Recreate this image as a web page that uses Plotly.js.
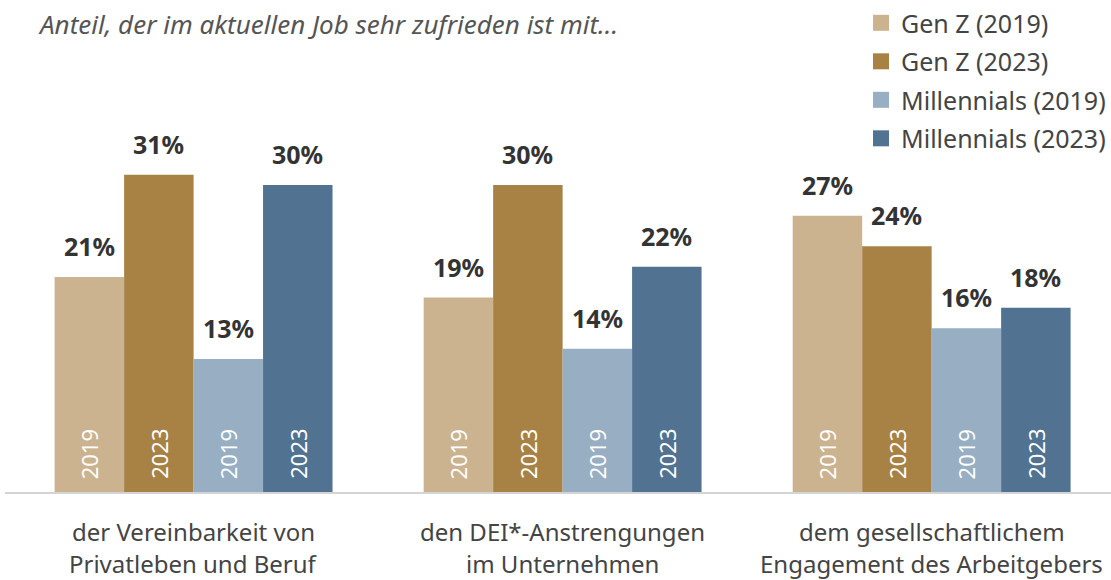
<!DOCTYPE html>
<html>
<head>
<meta charset="utf-8">
<script src="https://cdn.plot.ly/plotly-3.0.1.min.js"></script>
<style>html,body{margin:0;padding:0;background:#fff;}#chart{width:1111px;height:580px;}</style>
</head>
<body>
<div id="chart"></div>
<script>
const categories = ["der Vereinbarkeit von<br>Privatleben und Beruf", "den DEI*-Anstrengungen<br>im Unternehmen", "dem gesellschaftlichem<br>Engagement des Arbeitgebers"];
const seriesNames = ["Gen Z (2019)", "Gen Z (2023)", "Millennials (2019)", "Millennials (2023)"];
const seriesYears = ["2019", "2023", "2019", "2023"];
const genZ2019 = [21, 19, 27];
const genZ2023 = [31, 30, 24];
const mill2019 = [13, 14, 16];
const mill2023 = [30, 22, 18];
const seriesValues = [genZ2019, genZ2023, mill2019, mill2023];
const colors = ["#CBB390", "#A88245", "#97AEC3", "#517391"];
const titleText = "Anteil, der im aktuellen Job sehr zufrieden ist mit...";

const FONT = "Noto Sans, sans-serif";
const bargap = 0.247;
const bw = (1 - bargap) / seriesValues.length;
const xs = categories.map((c, i) => i);

const traces = [];
seriesValues.forEach((vals, s) => {
  traces.push({
    type: "bar", x: xs, y: vals, name: seriesNames[s],
    marker: {color: colors[s]}, showlegend: false, hoverinfo: "skip"
  });
});
seriesValues.forEach((vals, s) => {
  traces.push({
    type: "scatter", mode: "markers", x: [null], y: [null], name: seriesNames[s],
    legendgroup: "g" + s,
    marker: {symbol: "square", size: 16, color: colors[s]}
  });
});

const annotations = [];
seriesValues.forEach((vals, s) => {
  vals.forEach((v, i) => {
    const xc = i + (s - (seriesValues.length - 1) / 2) * bw;
    annotations.push({
      x: xc, y: v, xref: "x", yref: "y", text: v + "%", showarrow: false,
      yanchor: "bottom", yshift: 12,
      font: {family: FONT, size: 25, color: "#333333", weight: 700}
    });
    annotations.push({
      x: xc, y: 0, xref: "x", yref: "y", text: seriesYears[s], showarrow: false,
      textangle: -90, yanchor: "bottom", yshift: 11,
      font: {family: FONT, size: 22, color: "#ffffff"}
    });
  });
});
categories.forEach((c, i) => {
  c.split("<br>").forEach((line, k) => {
    annotations.push({
      x: i, y: 0, xref: "x", yref: "paper", text: line, showarrow: false,
      yanchor: "middle", yshift: -39 - 32 * k,
      font: {family: FONT, size: 24, color: "#444444"}
    });
  });
});

const layout = {
  width: 1111, height: 580,
  margin: {l: 5, r: 0, t: 10, b: 88},
  paper_bgcolor: "#ffffff", plot_bgcolor: "#ffffff",
  barmode: "group", bargap: bargap, bargroupgap: 0,
  title: {text: titleText, xref: "container", yref: "container", x: 40 / 1111, xanchor: "left",
          y: 1 - 25 / 580, yanchor: "middle",
          font: {family: FONT, size: 26, color: "#555555", style: "italic"}},
  xaxis: {range: [-0.511, 2.486], showticklabels: false, ticks: "", showgrid: false, zeroline: false,
          showline: true, linecolor: "#d4d4d4", linewidth: 1.5, fixedrange: true},
  yaxis: {range: [0, 46.8], visible: false, showgrid: false, zeroline: false, fixedrange: true},
  legend: {x: 1, xanchor: "right", y: 1.027, yanchor: "top", tracegroupgap: 3, itemclick: false,
           font: {family: FONT, size: 25, color: "#444444"}, bgcolor: "rgba(0,0,0,0)"},
  annotations: annotations,
  showlegend: true
};
Plotly.newPlot("chart", traces, layout, {displayModeBar: false, staticPlot: true});
</script>
</body>
</html>
